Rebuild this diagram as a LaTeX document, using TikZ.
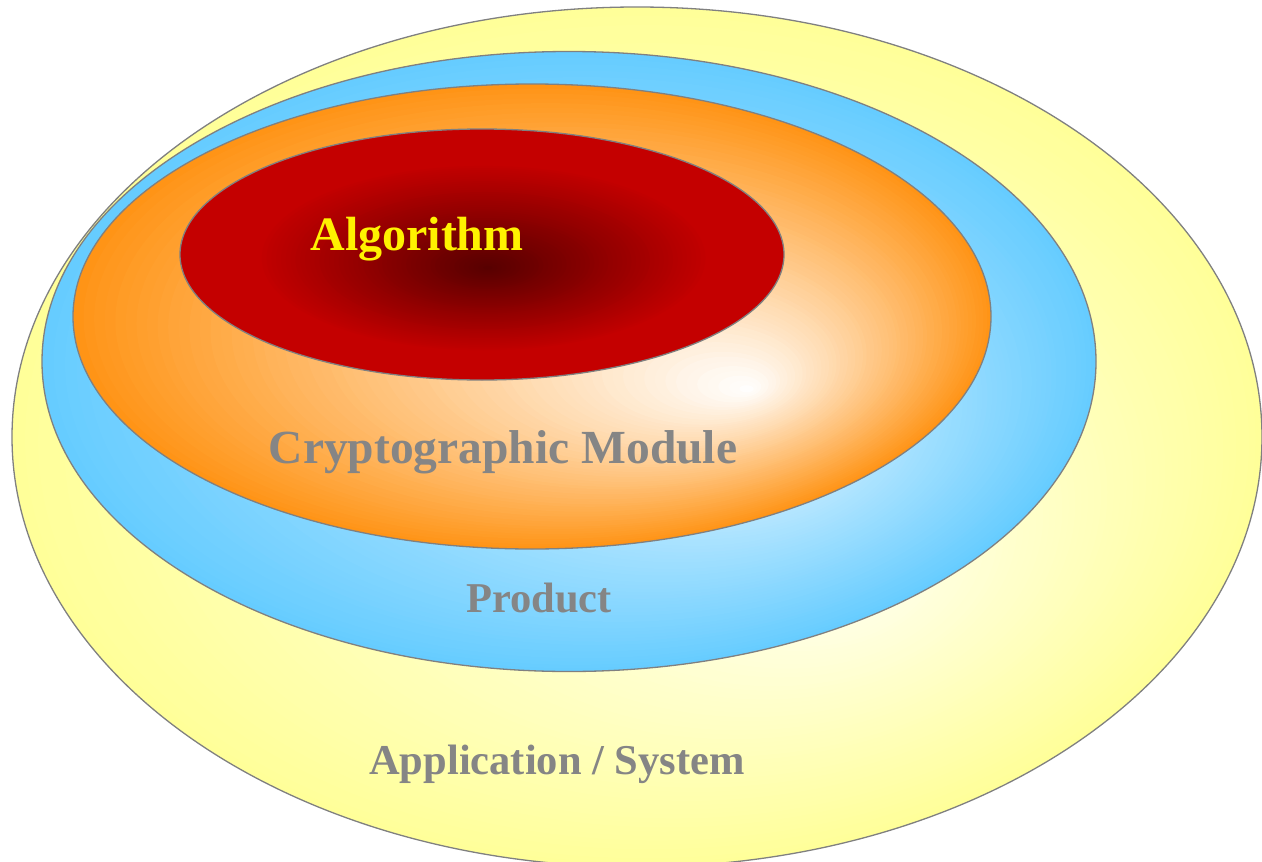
\documentclass[tikz,border=0pt]{standalone}
\usepackage{fontspec}
\setmainfont{Liberation Serif}
\definecolor{yel}{HTML}{FFFF99}
\definecolor{yelhi}{HTML}{FFFFF0}
\definecolor{blu}{HTML}{66CCFF}
\definecolor{bluhi}{HTML}{D4F0FF}
\definecolor{ora}{HTML}{FF9416}
\definecolor{orahi}{HTML}{FFFFFF}
\definecolor{rd}{HTML}{C40000}
\definecolor{rdhi}{HTML}{560000}
\definecolor{rimgray}{HTML}{808080}
\definecolor{txtgray}{HTML}{858585}
% path gradient: centre (#1,#2), radii (#3,#4), focus (#5,#6), outer #7, inner #8, stop #9
\newcommand\pathgradfill[9]{%
  \foreach \i in {0,...,63}{%
    \pgfmathsetmacro\s{1-\i/64}%
    \pgfmathtruncatemacro\p{min(100,100*\s/#9)}%
    \fill[#7!\p!#8] ({#5+\s*(#1-#5)},{#6+\s*(#2-#6)}) ellipse [x radius={\s*#3}, y radius={\s*#4}];
  }%
}
\begin{document}
\begin{tikzpicture}[x=1pt,y=-1pt]
\tikzset{rim/.style={draw=rimgray, line width=1.3pt},
  lbl/.style={anchor=base, inner sep=0pt, font=\bfseries\fontsize{#1}{#1}\selectfont},
  lbl/.default=42.5}
\useasboundingbox (0,0) rectangle (1262,862);
% Application / System layer
\pathgradfill{637}{437}{625}{430}{850}{585}{yel}{yelhi}{1}
\draw[rim] (637,437) ellipse [x radius=625, y radius=430];
% Product layer
\pathgradfill{569}{361.5}{527}{310}{780}{460}{blu}{bluhi}{1}
\draw[rim] (569,361.5) ellipse [x radius=527, y radius=310];
% Cryptographic Module layer
\pathgradfill{532}{316.5}{459}{232.5}{750}{390}{ora}{orahi}{1}
\draw[rim] (532,316.5) ellipse [x radius=459, y radius=232.5];
% Algorithm layer
\pathgradfill{482}{254.5}{302}{125.5}{488}{268}{rd}{rdhi}{0.75}
\draw[rim] (482,254.5) ellipse [x radius=302, y radius=125.5];
% Labels
\node[lbl=48, text=yellow] (alg) at (417,250.5) {Algorithm};
\node[lbl=47.5, text=txtgray] (mod) at (503,463) {Cryptographic Module};
\node[lbl, text=txtgray] (prod) at (539,612) {Product};
\node[lbl, text=txtgray] (app) at (557,774) {Application / System};
\end{tikzpicture}
\end{document}
